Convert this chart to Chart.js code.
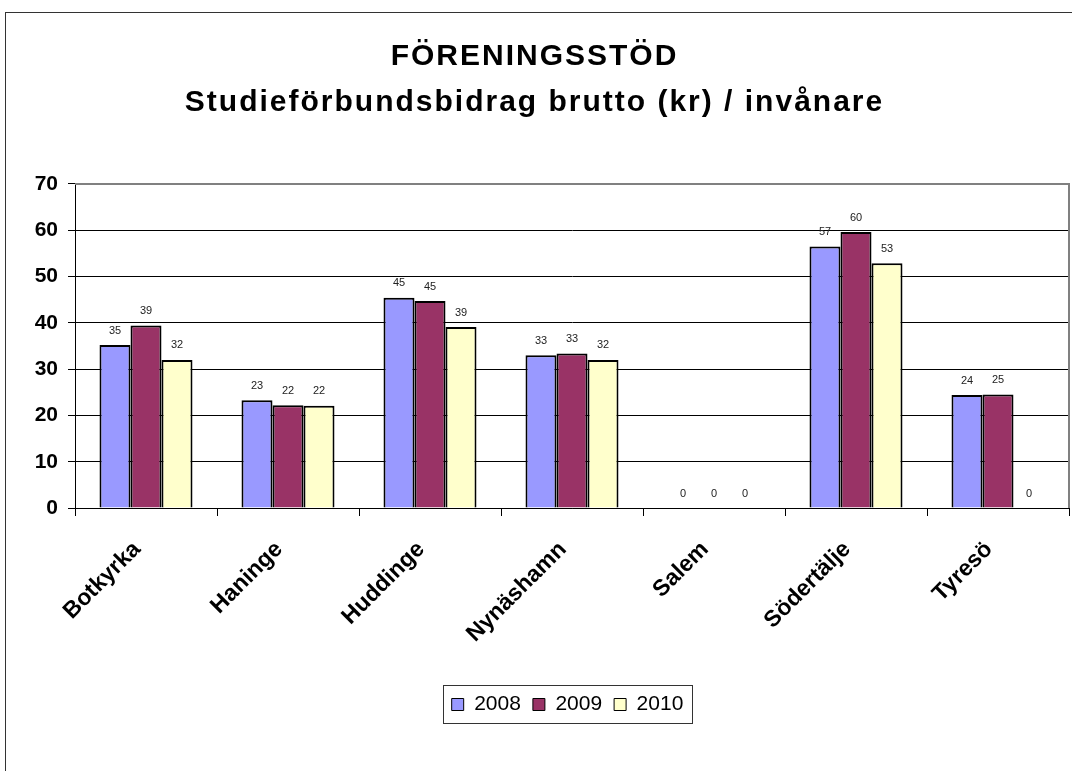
<!DOCTYPE html>
<html>
<head>
<meta charset="utf-8">
<script src="https://cdn.jsdelivr.net/npm/chart.js@4/dist/chart.umd.min.js"></script>
<style>
  body { margin: 0; background: #fff; }
  canvas { display: block; }
</style>
</head>
<body>
<canvas id="chart" width="1072" height="771"></canvas>
<script>
const kommuner = ['Botkyrka', 'Haninge', 'Huddinge', 'Nynäshamn', 'Salem', 'Södertälje', 'Tyresö'];
const ar2008 = [35.2, 23.3, 45.4, 33.0, 0, 56.5, 24.4];
const ar2009 = [39.4, 22.2, 44.7, 33.4, 0, 59.6, 24.5];
const ar2010 = [32.0, 22.1, 39.1, 32.0, 0, 52.9, 0];
const yTicks = [0, 10, 20, 30, 40, 50, 60, 70];

const FONT = "'Liberation Sans', Arial, sans-serif";

// ram runt hela diagrammet, grå kant runt ritytan, ruta runt förklaringen
const ramar = {
  id: 'ramar',
  afterLayout(chart) {
    // förklaringen sitter centrerad under ritytan, inte under hela bilden
    const lg = chart.legend;
    if (lg) { lg.left += 33; lg.right += 33; }
  },
  beforeDraw(chart) {
    const ctx = chart.ctx;
    ctx.save();
    ctx.strokeStyle = '#333';
    ctx.lineWidth = 1;
    ctx.strokeRect(5.5, 12.5, 2000, 2000);
    ctx.restore();
  },
  beforeDatasetsDraw(chart) {
    const { ctx, chartArea: a } = chart;
    ctx.save();
    ctx.strokeStyle = '#808080';
    ctx.lineWidth = 2;
    ctx.beginPath();
    ctx.moveTo(a.left, a.top);
    ctx.lineTo(a.right, a.top);
    ctx.lineTo(a.right, a.bottom);
    ctx.stroke();
    ctx.restore();
  },
  afterDraw(chart) {
    const lg = chart.legend;
    const ctx = chart.ctx;
    if (!lg || !lg.legendHitBoxes.length) return;
    const boxes = lg.legendHitBoxes;
    const x0 = boxes[0].left - 9;
    const last = boxes[boxes.length - 1];
    const x1 = last.left + last.width + 8;
    const y0 = boxes[0].top - 9;
    const y1 = boxes[0].top + boxes[0].height + 8;
    ctx.save();
    ctx.strokeStyle = '#333';
    ctx.lineWidth = 1;
    ctx.strokeRect(Math.round(x0) + 0.5, Math.round(y0) + 0.5, Math.round(x1 - x0), Math.round(y1 - y0));
    ctx.restore();
  }
};

// värden ovanför staplarna
const etiketter = {
  id: 'etiketter',
  afterDatasetsDraw(chart) {
    const ctx = chart.ctx;
    ctx.save();
    ctx.font = '11px ' + FONT;
    ctx.fillStyle = '#222';
    ctx.textAlign = 'center';
    ctx.textBaseline = 'bottom';
    chart.data.datasets.forEach((ds, i) => {
      chart.getDatasetMeta(i).data.forEach((bar, j) => {
        ctx.fillText(Math.round(ds.data[j]), bar.x, bar.y - 9);
      });
    });
    ctx.restore();
  }
};

const chart = new Chart(document.getElementById('chart'), {
  type: 'bar',
  data: {
    labels: kommuner,
    datasets: [
      { label: '2008', data: ar2008, backgroundColor: '#9999FF' },
      { label: '2009', data: ar2009, backgroundColor: '#993366' },
      { label: '2010', data: ar2010, backgroundColor: '#FFFFCC' }
    ].map(d => Object.assign(d, { borderColor: '#000', borderWidth: 2, borderSkipped: 'bottom' }))
  },
  options: {
    responsive: false,
    animation: false,
    layout: { padding: { left: 0, right: 3, top: 0, bottom: 46 } },
    datasets: { bar: { categoryPercentage: 0.655, barPercentage: 1 } },
    plugins: {
      title: {
        display: true,
        text: ['FÖRENINGSSTÖD', 'Studieförbundsbidrag brutto (kr) / invånare'],
        color: '#000',
        font: { family: FONT, size: 30, weight: 'bold', lineHeight: 1.533 },
        padding: { top: 34, bottom: 58 }
      },
      legend: {
        position: 'bottom',
        labels: {
          color: '#000',
          font: { family: FONT, size: 21 },
          boxWidth: 12,
          boxHeight: 12,
          padding: 12,
          generateLabels(chart) {
            return chart.data.datasets.map((ds, i) => ({
              text: ds.label,
              fillStyle: ds.backgroundColor,
              strokeStyle: '#000',
              lineWidth: 1,
              datasetIndex: i,
              fontColor: '#000'
            }));
          }
        }
      },
      tooltip: { enabled: false }
    },
    scales: {
      x: {
        grid: { offset: true, drawOnChartArea: false, color: '#000', tickLength: 8 },
        border: { color: '#000', width: 1 },
        ticks: {
          color: '#000',
          font: { family: FONT, size: 23, weight: 'bold' },
          maxRotation: 45,
          minRotation: 45,
          padding: 20,
          labelOffset: -9
        },
        afterFit(scale) { scale.height = 174; }
      },
      y: {
        min: 0,
        max: 70,
        afterBuildTicks(scale) { scale.ticks = yTicks.map(v => ({ value: v })); },
        grid: { color: '#000', tickLength: 7 },
        border: { color: '#000', width: 1 },
        ticks: {
          color: '#000',
          font: { family: FONT, size: 21, weight: 'bold' },
          padding: 10
        },
        afterFit(scale) { scale.width = 75; }
      }
    }
  },
  plugins: [ramar, etiketter]
});

// rubriken är utdragen på bredden i originalet
const tb = chart.titleBlock;
const ritaRubrik = tb.draw.bind(tb);
tb.draw = function (area) {
  const c = this.ctx;
  c.save();
  c.letterSpacing = '2px';
  ritaRubrik(area);
  c.restore();
};
chart.draw();
</script>
</body>
</html>
